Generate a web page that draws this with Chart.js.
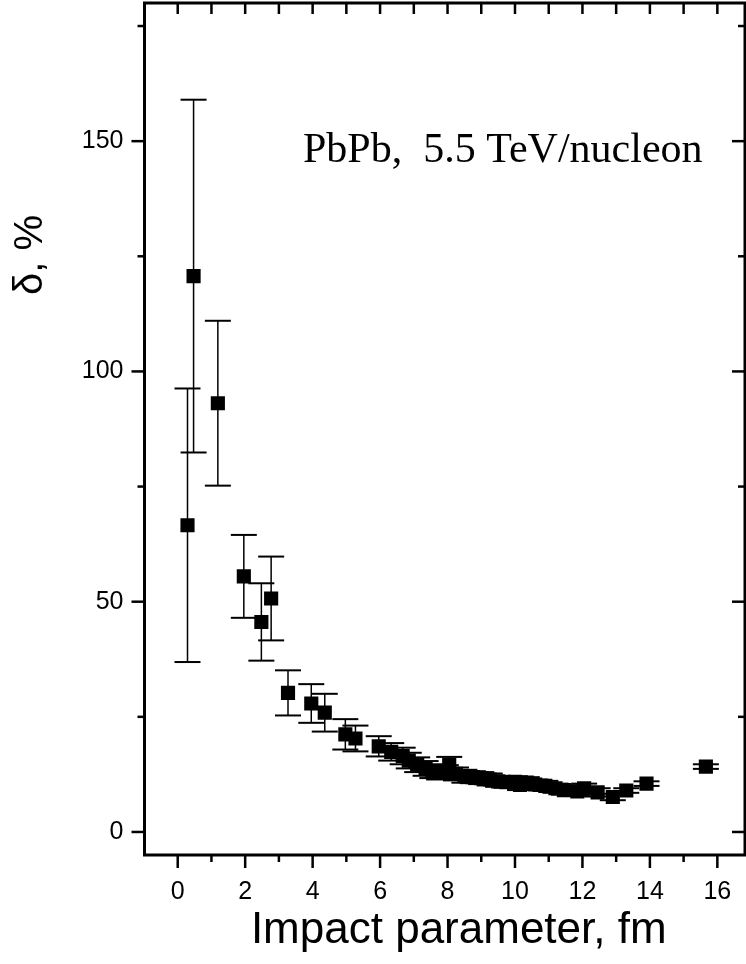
<!DOCTYPE html>
<html>
<head>
<meta charset="utf-8">
<title>PbPb 5.5 TeV/nucleon</title>
<script src="https://cdn.jsdelivr.net/npm/chart.js@4.4.1/dist/chart.umd.min.js"></script>
<style>
  html, body { margin: 0; padding: 0; background: #fff; overflow: hidden; }
  #wrap { width: 746px; height: 964px; position: relative; }
</style>
</head>
<body>
<div id="wrap"><canvas id="deltaChart"></canvas></div>
<script>
// impact parameter b (fm), relative fluctuation delta (%), symmetric error (%)
const impactParameter = [
  0.29, 0.47, 1.19, 1.96, 2.48, 2.77, 3.27, 3.96, 4.36, 4.97,
  5.27, 5.96, 6.33, 6.67, 6.85, 7.1, 7.35, 7.55, 7.75, 7.95,
  8.05, 8.25, 8.5, 8.75, 9.0, 9.25, 9.5, 9.75, 10.0, 10.15,
  10.35, 10.6, 10.9, 11.2, 11.45, 11.85, 12.05, 12.45, 12.9, 13.3,
  13.9, 15.66,
];
const deltaValues = [
  66.6, 120.7, 93.1, 55.5, 45.6, 50.7, 30.2, 27.9, 25.9, 21.2,
  20.3, 18.6, 17.4, 16.5, 15.5, 14.6, 13.8, 13.2, 12.9, 13.0,
  14.6, 12.6, 12.1, 11.9, 11.7, 11.4, 11.0, 10.8, 10.9, 10.2,
  10.7, 10.3, 10.0, 9.5, 9.1, 8.8, 9.5, 8.6, 7.6, 9.0,
  10.5, 14.2,
];
const deltaErrors = [
  29.7, 38.3, 17.9, 9.0, 8.4, 9.1, 4.9, 4.2, 4.1, 3.3,
  2.8, 2.2, 1.9, 1.8, 1.7, 1.6, 1.6, 1.5, 1.5, 1.5,
  1.7, 1.4, 1.4, 1.3, 1.3, 1.3, 1.2, 1.2, 1.2, 1.1,
  1.2, 1.1, 1.1, 1.0, 1.0, 1.0, 1.0, 0.9, 0.7, 0.5,
  0.5, 0.5,
];

const xTickValues = [0, 2, 4, 6, 8, 10, 12, 14, 16];
const xMinorValues = [1, 3, 5, 7, 9, 11, 13, 15];
const yTickValues = [0, 50, 100, 150];
const yMinorValues = [25, 75, 125, 175];

const sansFont = "'Liberation Sans', Arial, sans-serif";
const serifFont = "'Liberation Serif', 'Times New Roman', serif";

const points = impactParameter.map((b, i) => ({ x: b, y: deltaValues[i], err: deltaErrors[i] }));

function strokeLine(ctx, x1, y1, x2, y2) {
  ctx.beginPath();
  ctx.moveTo(x1, y1);
  ctx.lineTo(x2, y2);
  ctx.stroke();
}

function noScalePadding(scale) {
  scale.paddingTop = 0;
  scale.paddingBottom = 0;
  scale.paddingLeft = 0;
  scale.paddingRight = 0;
}

const errorBars = {
  id: "errorBars",
  beforeDatasetsDraw(chart) {
    const { ctx, scales: { x, y } } = chart;
    ctx.save();
    ctx.strokeStyle = "#000";
    points.forEach((p) => {
      const px = x.getPixelForValue(p.x);
      const top = y.getPixelForValue(p.y + p.err);
      const bottom = y.getPixelForValue(p.y - p.err);
      ctx.lineWidth = 1.5;
      strokeLine(ctx, px, top, px, bottom);
      ctx.lineWidth = 2;
      strokeLine(ctx, px - 13, top, px + 13, top);
      strokeLine(ctx, px - 13, bottom, px + 13, bottom);
    });
    ctx.restore();
  },
};

const frame = {
  id: "frame",
  afterDraw(chart) {
    const { ctx, chartArea: a, scales: { x, y } } = chart;
    ctx.save();
    ctx.strokeStyle = "#000";
    ctx.lineWidth = 2.5;
    xTickValues.forEach((v) => {
      const px = x.getPixelForValue(v);
      strokeLine(ctx, px, a.bottom, px, a.bottom + 13);
      strokeLine(ctx, px, a.top, px, a.top + 11);
    });
    xMinorValues.forEach((v) => {
      const px = x.getPixelForValue(v);
      strokeLine(ctx, px, a.bottom, px, a.bottom + 7);
      strokeLine(ctx, px, a.top, px, a.top + 11);
    });
    yTickValues.forEach((v) => {
      const py = y.getPixelForValue(v);
      strokeLine(ctx, a.left - 13, py, a.left, py);
      strokeLine(ctx, a.right - 13, py, a.right, py);
    });
    yMinorValues.forEach((v) => {
      const py = y.getPixelForValue(v);
      strokeLine(ctx, a.left - 7, py, a.left, py);
      strokeLine(ctx, a.right - 7, py, a.right, py);
    });
    ctx.lineWidth = 3;
    ctx.strokeRect(a.left, a.top, a.right - a.left, a.bottom - a.top);

    ctx.fillStyle = "#000";
    ctx.font = `42px ${serifFont}`;
    ctx.textAlign = "left";
    ctx.textBaseline = "alphabetic";
    ctx.fillText("PbPb,  5.5 TeV/nucleon", 303, 162);

    ctx.font = `44px ${sansFont}`;
    ctx.textAlign = "center";
    ctx.fillText("Impact parameter, fm", (a.left + a.right) / 2 + 14, 943);

    ctx.translate(42, 255);
    ctx.rotate(-Math.PI / 2);
    ctx.font = `40px ${sansFont}`;
    ctx.fillText("δ, %", 0, 0);
    ctx.restore();
  },
};

new Chart(document.getElementById("deltaChart"), {
  type: "scatter",
  data: {
    datasets: [
      {
        data: points,
        pointStyle: "rect",
        pointRadius: 10,
        pointHoverRadius: 10,
        backgroundColor: "#000",
        borderColor: "#000",
        borderWidth: 0,
      },
    ],
  },
  options: {
    responsive: true,
    maintainAspectRatio: false,
    animation: false,
    layout: { autoPadding: false, padding: { top: 3, right: 1, left: 0, bottom: 0 } },
    plugins: { legend: { display: false }, tooltip: { enabled: false } },
    scales: {
      x: {
        type: "linear",
        min: -0.985,
        max: 16.82,
        border: { display: false },
        grid: { display: false, drawTicks: false },
        afterBuildTicks: (scale) => {
          scale.ticks = xTickValues.map((v) => ({ value: v }));
        },
        afterFit: (scale) => {
          scale.height = 109;
          noScalePadding(scale);
        },
        ticks: {
          padding: 22,
          color: "#000",
          font: { family: sansFont, size: 25 },
        },
      },
      y: {
        type: "linear",
        min: -5,
        max: 180,
        border: { display: false },
        grid: { display: false, drawTicks: false },
        afterBuildTicks: (scale) => {
          scale.ticks = yTickValues.map((v) => ({ value: v }));
        },
        afterFit: (scale) => {
          scale.width = 144.5;
          noScalePadding(scale);
        },
        ticks: {
          padding: 21,
          color: "#000",
          font: { family: sansFont, size: 25 },
        },
      },
    },
  },
  plugins: [errorBars, frame],
});
</script>
</body>
</html>
